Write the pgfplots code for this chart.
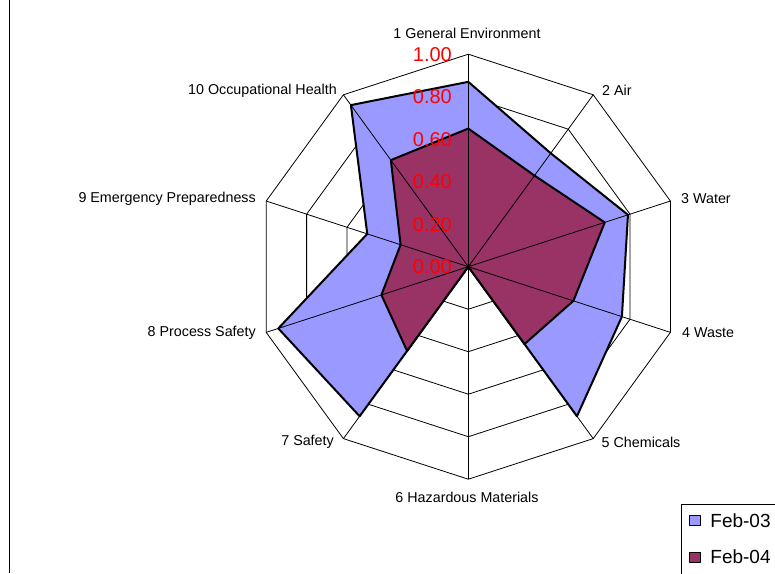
\documentclass[border=0pt]{standalone}
\usepackage{fontspec}
\setmainfont{Liberation Sans}
\usepackage{pgfplots}
\pgfplotsset{compat=1.18}
\definecolor{febA}{HTML}{9999FF}
\definecolor{febB}{HTML}{993366}
\begin{document}
\begin{tikzpicture}
\useasboundingbox (0,0) rectangle (775pt,-573pt);
\fill[white] (0,0) rectangle (775pt,-573pt);
\begin{axis}[
  at={(468.3pt,-266.7pt)}, anchor=center,
  scale only axis, width=425pt, height=425pt,
  xmin=-1, xmax=1, ymin=-1, ymax=1,
  hide axis, clip=false,
  legend style={at={(1.0,-0.058)}, anchor=north west, draw=black, line width=0.8pt,
    font=\fontsize{19}{22}\selectfont, inner xsep=8pt, inner ysep=7pt, row sep=17pt,
    /tikz/every odd column/.append style={column sep=7pt}},
  legend cell align=left,
  legend image code/.code={\draw[#1, line width=1.2pt] (0pt,-5pt) rectangle (11pt,5pt);},
]
% rings (beneath the fills)
\pgfplotsinvokeforeach{0.2,0.4,0.6,0.8,1.0}{
\addplot[data cs=polar, black, line width=0.8pt, forget plot]
  coordinates {(90,#1) (54,#1) (18,#1) (-18,#1) (-54,#1) (-90,#1) (-126,#1) (-162,#1) (162,#1) (126,#1)} -- cycle;
}
\addplot[data cs=polar, fill=febA, draw=black, line width=2pt, line join=round]
  coordinates {(90,0.87) (54,0.66) (18,0.79) (-18,0.76) (-54,0.87) (-90,0) (-126,0.87) (-162,0.94) (162,0.50) (126,0.94)} -- cycle;
\addlegendentry{Feb-03\hspace{20pt}}
\addplot[data cs=polar, fill=febB, draw=black, line width=2pt, line join=round]
  coordinates {(90,0.65) (54,0.53) (18,0.675) (-18,0.52) (-54,0.45) (-90,0) (-126,0.49) (-162,0.43) (162,0.335) (126,0.62)} -- cycle;
\addlegendentry{Feb-04\hspace{20pt}}
\addlegendimage{legend image code/.code={}}
\addlegendentry{\strut}
% spokes (over the fills)
\pgfplotsinvokeforeach{90,54,18,-18,-54,-90,-126,-162,162,126}{
\addplot[data cs=polar, black, line width=0.8pt, forget plot]
  coordinates {(#1,0) (#1,1)};
}
\end{axis}
\draw[black, line width=1pt] (9pt,0) -- (9pt,-573pt);
% tick labels
\begin{scope}[every node/.style={anchor=east, text=red, inner sep=0pt, font=\fontsize{20}{24}\selectfont}]
\node at (452pt,-266.7pt) {0.00};
\node at (452pt,-224.2pt) {0.20};
\node at (452pt,-181.7pt) {0.40};
\node at (452pt,-139.2pt) {0.60};
\node at (452pt,-96.7pt) {0.80};
\node at (452pt,-54.2pt) {1.00};
\end{scope}
% category labels
\begin{scope}[every node/.style={inner sep=0pt, font=\fontsize{14.3}{17}\selectfont}]
\node[anchor=center] at (467pt,-33pt) {1 General Environment};
\node[anchor=west] at (602pt,-90.5pt) {2 Air};
\node[anchor=west] at (681pt,-199pt) {3 Water};
\node[anchor=west] at (682pt,-333pt) {4 Waste};
\node[anchor=west] at (601.5pt,-442pt) {5 Chemicals};
\node[anchor=center] at (467pt,-497pt) {6 Hazardous Materials};
\node[anchor=east] at (334pt,-442pt) {7 Safety};
\node[anchor=east] at (256pt,-333pt) {8 Process Safety};
\node[anchor=east] at (256pt,-199pt) {9 Emergency Preparedness};
\node[anchor=east] at (337pt,-90.5pt) {10 Occupational Health};
\end{scope}
\end{tikzpicture}
\end{document}
